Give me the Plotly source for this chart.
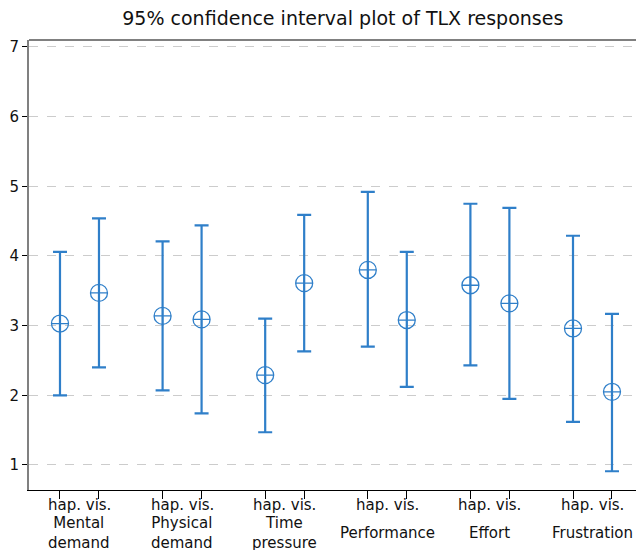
import plotly.graph_objects as go

categories = ["Mental<br>demand", "Physical<br>demand", "Time<br>pressure",
              "Performance", "Effort", "Frustration"]
group_labels = ["hap.", "vis."]

hap_mean = [3.03, 3.14, 2.29, 3.80, 3.58, 2.96]
hap_upper = [4.06, 4.21, 3.10, 4.92, 4.75, 4.29]
hap_lower = [2.00, 2.07, 1.47, 2.70, 2.43, 1.62]

vis_mean = [3.47, 3.09, 3.61, 3.08, 3.32, 2.05]
vis_upper = [4.54, 4.44, 4.59, 4.06, 4.69, 3.17]
vis_lower = [2.40, 1.74, 2.63, 2.12, 1.95, 0.91]

blue = "#2f7fc9"
font = "DejaVu Sans"

n = len(categories)
hap_x = [k - 0.19 for k in range(n)]
vis_x = [k + 0.19 for k in range(n)]

fig = go.Figure()
for xs, mean, up, lo in [(hap_x, hap_mean, hap_upper, hap_lower),
                         (vis_x, vis_mean, vis_upper, vis_lower)]:
    fig.add_trace(go.Scatter(
        x=xs, y=mean, mode="markers",
        marker=dict(symbol="circle-cross-open", size=17, color=blue,
                    line=dict(width=1.3, color=blue)),
        error_y=dict(type="data", symmetric=False,
                     array=[u - m for u, m in zip(up, mean)],
                     arrayminus=[m - l for m, l in zip(mean, lo)],
                     color=blue, thickness=2.2, width=7),
        showlegend=False, hoverinfo="skip",
    ))

tickvals = []
for k in range(n):
    tickvals += [hap_x[k], vis_x[k]]

for k, c in enumerate(categories):
    fig.add_annotation(x=k, y=0, xref="x", yref="paper", text=" ".join(group_labels),
                       showarrow=False, yanchor="middle", yshift=-15,
                       font=dict(family=font, size=15, color="#111111"))
    fig.add_annotation(x=k, y=0, xref="x", yref="paper", text=c,
                       showarrow=False, yanchor="middle", yshift=-43,
                       font=dict(family=font, size=15, color="#111111"))

# grey frame line along the top
fig.add_shape(type="line", xref="paper", yref="paper", x0=0, x1=1, y0=1, y1=1,
              line=dict(color="#808080", width=2))

fig.update_layout(
    width=636, height=550,
    margin=dict(l=29, r=0, t=40, b=60),
    paper_bgcolor="white", plot_bgcolor="white",
    font=dict(family=font, color="#111111"),
    title=dict(text="95% confidence interval plot of TLX responses",
               xref="paper", x=0.517, xanchor="center", y=0.967, yanchor="middle",
               font=dict(family=font, size=19, color="#111111")),
    xaxis=dict(range=[-0.492, 5.424], tickmode="array", tickvals=tickvals,
               showticklabels=False, showgrid=False, zeroline=False,
               showline=True, linecolor="black", linewidth=1,
               ticks="outside", ticklen=8, tickcolor="black"),
    yaxis=dict(range=[0.641, 7.1], tickvals=[1, 2, 3, 4, 5, 6, 7],
               showgrid=True, gridcolor="#cccccc", griddash="dash", gridwidth=1,
               zeroline=False, showline=True, linecolor="#808080", linewidth=2,
               ticks="outside", ticklen=5, tickcolor="black",
               tickfont=dict(family=font, size=15, color="#111111")),
)

fig.write_html("out.html", config={"displayModeBar": False},
               post_script="document.body.style.margin='0';")
